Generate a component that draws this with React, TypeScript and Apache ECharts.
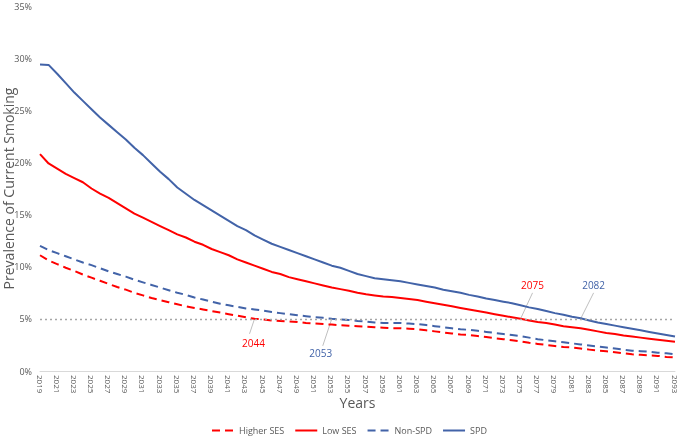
import React, { useEffect, useRef } from "react";
import * as echarts from "echarts";

const years: string[] = [];
for (let y = 2019; y <= 2093; y++) years.push(String(y));

const spd = [
  29.4, 29.35, 28.5, 27.6, 26.7, 25.9, 25.1, 24.3, 23.6, 22.9,
  22.2, 21.4, 20.7, 19.9, 19.1, 18.4, 17.6, 17.0, 16.4, 15.9,
  15.4, 14.9, 14.4, 13.9, 13.5, 13.0, 12.6, 12.2, 11.9, 11.6,
  11.3, 11.0, 10.7, 10.4, 10.1, 9.9, 9.6, 9.3, 9.1, 8.9,
  8.8, 8.7, 8.6, 8.45, 8.3, 8.15, 8.0, 7.8, 7.65, 7.5,
  7.3, 7.15, 6.95, 6.8, 6.65, 6.5, 6.3, 6.1, 5.95, 5.75,
  5.55, 5.4, 5.2, 5.05, 4.85, 4.65, 4.5, 4.35, 4.2, 4.05,
  3.9, 3.75, 3.6, 3.45, 3.3,
];

const lowSes = [
  20.8, 19.9, 19.4, 18.9, 18.5, 18.1, 17.5, 17.0, 16.6, 16.1,
  15.6, 15.1, 14.7, 14.3, 13.9, 13.5, 13.1, 12.8, 12.4, 12.1,
  11.7, 11.4, 11.1, 10.7, 10.4, 10.1, 9.8, 9.5, 9.3, 9.0,
  8.8, 8.6, 8.4, 8.2, 8.0, 7.85, 7.7, 7.5, 7.35, 7.25,
  7.15, 7.1, 7.0, 6.9, 6.8, 6.65, 6.5, 6.35, 6.2, 6.05,
  5.9, 5.75, 5.6, 5.45, 5.3, 5.15, 5.0, 4.85, 4.7, 4.6,
  4.45, 4.3, 4.2, 4.1, 3.95, 3.8, 3.65, 3.55, 3.4, 3.3,
  3.2, 3.1, 3.0, 2.9, 2.8,
];

const nonSpd = [
  12.0, 11.6, 11.3, 11.0, 10.7, 10.4, 10.15, 9.85, 9.55, 9.3,
  9.05, 8.75, 8.5, 8.25, 8.0, 7.75, 7.5, 7.3, 7.05, 6.85,
  6.65, 6.45, 6.3, 6.15, 6.0, 5.9, 5.8, 5.65, 5.55, 5.45,
  5.35, 5.25, 5.15, 5.1, 5.0, 4.95, 4.9, 4.8, 4.75, 4.65,
  4.6, 4.6, 4.6, 4.55, 4.5, 4.4, 4.3, 4.2, 4.1, 4.0,
  3.95, 3.85, 3.75, 3.65, 3.55, 3.45, 3.35, 3.2, 3.05, 2.95,
  2.85, 2.75, 2.65, 2.55, 2.45, 2.35, 2.25, 2.15, 2.05, 1.95,
  1.9, 1.85, 1.75, 1.7, 1.6,
];

const higherSes = [
  11.1, 10.6, 10.25, 9.9, 9.6, 9.25, 8.95, 8.65, 8.35, 8.05,
  7.8, 7.5, 7.25, 7.0, 6.8, 6.6, 6.4, 6.2, 6.05, 5.9,
  5.75, 5.6, 5.45, 5.3, 5.15, 5.0, 4.95, 4.85, 4.8, 4.75,
  4.7, 4.6, 4.55, 4.5, 4.45, 4.4, 4.35, 4.3, 4.25, 4.2,
  4.15, 4.1, 4.1, 4.05, 4.0, 3.9, 3.8, 3.7, 3.6, 3.5,
  3.45, 3.35, 3.25, 3.15, 3.05, 2.95, 2.85, 2.7, 2.6, 2.5,
  2.4, 2.3, 2.25, 2.15, 2.05, 1.95, 1.9, 1.8, 1.7, 1.6,
  1.55, 1.5, 1.45, 1.35, 1.3,
];

const threshold = 5;

const RED = "#ff0000";
const BLUE = "#4263a8";
const GRAY = "#595959";
const FONT = "'Open Sans', 'Noto Sans', sans-serif";

// crossing annotations: year, colour, label offset (dx, dy) from crossing point, leader end offset
const crossings = [
  { year: "2044", color: RED, tx: -1, ty: 24, lx: -5, ly: 15 },
  { year: "2053", color: BLUE, tx: -11, ty: 34, lx: -9, ly: 27 },
  { year: "2075", color: RED, tx: 12, ty: -34, lx: 12, ly: -26 },
  { year: "2082", color: BLUE, tx: 13, ty: -34, lx: 13, ly: -26 },
];

export default function App() {
  const ref = useRef<HTMLDivElement>(null);

  useEffect(() => {
    if (!ref.current) return;
    const chart = echarts.init(ref.current, undefined, { renderer: "svg" });
    const dashed = [8, 5];
    chart.setOption({
      animation: false,
      textStyle: { fontFamily: FONT },
      grid: {
        left: 40,
        right: 10,
        top: 6,
        bottom: 65,
        containLabel: false,
        outerBoundsMode: "none",
      },
      legend: {
        bottom: 1,
        left: 211,
        padding: 0,
        itemWidth: 22,
        itemHeight: 10,
        itemGap: 10,
        itemStyle: { opacity: 0 },
        textStyle: { color: GRAY, fontSize: 9, fontFamily: FONT },
        data: ["Higher SES", "Low SES", "Non-SPD", "SPD"],
      },
      xAxis: {
        type: "category",
        data: years,
        boundaryGap: false,
        name: "Years",
        nameLocation: "middle",
        nameGap: 24,
        nameMoveOverlap: false,
        nameTextStyle: { color: GRAY, fontSize: 14, fontFamily: FONT },
        axisLine: { lineStyle: { color: "#d9d9d9" } },
        axisTick: { show: false },
        axisLabel: {
          interval: 1,
          rotate: -90,
          color: GRAY,
          fontSize: 8,
          margin: 4,
        },
      },
      yAxis: {
        type: "value",
        min: 0,
        max: 35,
        interval: 5,
        name: "Prevalence of Current Smoking",
        nameLocation: "middle",
        nameGap: 25,
        nameMoveOverlap: false,
        nameTextStyle: { color: GRAY, fontSize: 14, fontFamily: FONT },
        axisLine: { show: false },
        axisTick: { show: false },
        splitLine: { show: false },
        axisLabel: {
          formatter: "{value}%",
          color: GRAY,
          fontSize: 9,
          margin: 8,
          verticalAlign: "middle",
        },
      },
      series: [
        {
          name: "Higher SES",
          type: "line",
          data: higherSes,
          symbol: "none",
          lineStyle: { color: RED, width: 2, type: dashed },
          itemStyle: { color: RED },
          markLine: {
            silent: true,
            symbol: "none",
            label: { show: false },
            lineStyle: { color: "#a6a6a6", type: [2, 3], width: 1.3 },
            data: [{ yAxis: threshold }],
          },
        },
        {
          name: "Low SES",
          type: "line",
          data: lowSes,
          symbol: "none",
          lineStyle: { color: RED, width: 2 },
          itemStyle: { color: RED },
        },
        {
          name: "Non-SPD",
          type: "line",
          data: nonSpd,
          symbol: "none",
          lineStyle: { color: BLUE, width: 2, type: dashed },
          itemStyle: { color: BLUE },
        },
        {
          name: "SPD",
          type: "line",
          data: spd,
          symbol: "none",
          lineStyle: { color: BLUE, width: 2 },
          itemStyle: { color: BLUE },
        },
      ],
    });

    const graphics: any[] = [];
    crossings.forEach((c) => {
      const p = chart.convertToPixel({ xAxisIndex: 0, yAxisIndex: 0 }, [c.year, threshold]) as number[];
      if (!p) return;
      graphics.push({
        type: "line",
        shape: { x1: p[0], y1: p[1], x2: p[0] + c.lx, y2: p[1] + c.ly },
        style: { stroke: "#bfbfbf", lineWidth: 1 },
        silent: true,
      });
      graphics.push({
        type: "text",
        x: p[0] + c.tx,
        y: p[1] + c.ty,
        style: {
          text: c.year,
          fill: c.color,
          fontSize: 10,
          fontFamily: FONT,
          align: "center",
          verticalAlign: "middle",
        },
        silent: true,
      });
    });
    chart.setOption({ graphic: graphics });

    return () => chart.dispose();
  }, []);

  return (
    <div
      ref={ref}
      style={{ position: "fixed", left: 0, top: 0, width: 685, height: 436 }}
    />
  );
}
